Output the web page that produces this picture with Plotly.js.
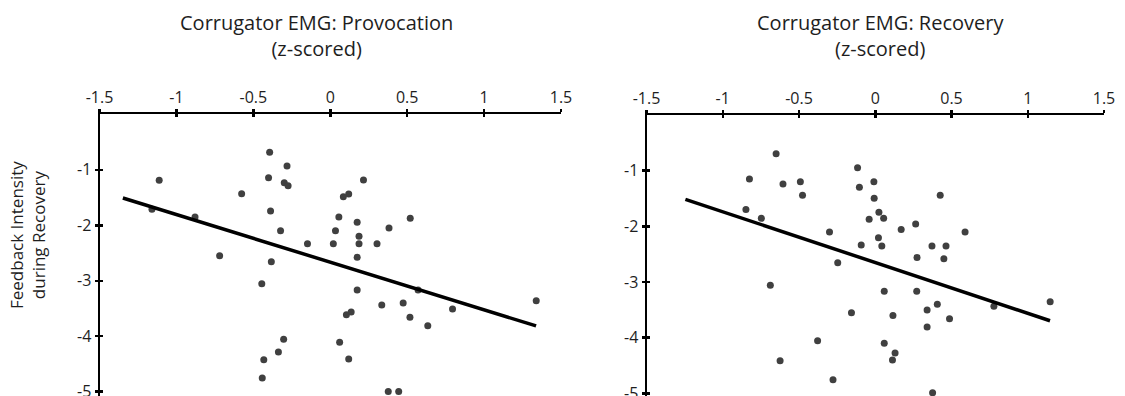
<!DOCTYPE html>
<html>
<head>
<meta charset="utf-8">
<script src="https://cdn.plot.ly/plotly-3.0.1.min.js"></script>
<style>html,body{margin:0;padding:0;background:#fff;overflow:hidden;}#chart{width:1125px;height:420px;}</style>
</head>
<body>
<div id="chart"></div>
<script>
// ---- data ----
const provX = [-1.112,-0.394,-0.281,-0.401,-0.299,-0.274,-0.576,0.216,0.085,0.120,-1.159,-0.879,-0.388,0.056,0.175,0.520,0.382,-0.323,0.034,0.187,-0.148,0.020,0.187,0.304,-0.719,0.175,-0.383,-0.445,0.175,0.335,0.474,0.571,0.795,1.339,0.518,0.634,0.105,0.136,-0.303,-0.337,-0.432,0.061,0.120,-0.442,0.377,0.445];
const provY = [-1.189,-0.685,-0.932,-1.142,-1.232,-1.286,-1.431,-1.184,-1.485,-1.436,-1.712,-1.850,-1.742,-1.850,-1.946,-1.874,-2.049,-2.097,-2.097,-2.198,-2.332,-2.332,-2.332,-2.332,-2.548,-2.577,-2.656,-3.052,-3.166,-3.436,-3.400,-3.166,-3.508,-3.359,-3.658,-3.809,-3.611,-3.562,-4.054,-4.283,-4.422,-4.108,-4.409,-4.751,-4.998,-4.998];
const provFitX = [-1.348, 1.338];
const provFitY = [-1.508, -3.814];

const recX = [-0.650,-0.825,-0.605,-0.491,-0.477,-0.116,-0.104,-0.009,-0.007,0.024,0.055,-0.040,0.426,-0.848,-0.747,-0.300,0.170,0.265,0.589,0.021,-0.092,0.043,0.372,0.464,0.274,0.450,-0.246,-0.688,0.059,0.272,0.407,0.340,0.778,1.147,-0.156,0.116,0.487,0.340,-0.378,0.059,0.130,0.113,-0.624,-0.277,0.376];
const recY = [-0.696,-1.150,-1.240,-1.198,-1.443,-0.947,-1.300,-1.198,-1.497,-1.749,-1.857,-1.875,-1.443,-1.700,-1.857,-2.102,-2.055,-1.959,-2.102,-2.204,-2.336,-2.354,-2.354,-2.354,-2.558,-2.582,-2.654,-3.060,-3.168,-3.168,-3.402,-3.504,-3.438,-3.355,-3.552,-3.600,-3.660,-3.810,-4.056,-4.103,-4.277,-4.403,-4.415,-4.756,-4.990];
const recFitX = [-1.245, 1.146];
const recFitY = [-1.515, -3.696];

const xTickVals = [-1.5,-1,-0.5,0,0.5,1,1.5];
const xTickText = ['-1.5','-1','-0.5','0','0.5','1','1.5'];
const yTickVals = [-1,-2,-3,-4,-5];
const yTickText = ['-1','-2','-3','-4','-5'];

const titleLeft = 'Corrugator EMG: Provocation<br>(z-scored)';
const titleRight = 'Corrugator EMG: Recovery<br>(z-scored)';
const yTitle = 'Feedback Intensity<br>during Recovery';

// ---- chart ----
const FONT = 'Open Sans, Noto Sans, sans-serif';
const TXT = '#1e1e1e';
const dotStyle = {color:'#404040', size:7};
const fitStyle = {color:'#000', width:3.5};

const traces = [
  {x:provX, y:provY, xaxis:'x', yaxis:'y', mode:'markers', type:'scatter', marker:dotStyle, hoverinfo:'skip'},
  {x:provFitX, y:provFitY, xaxis:'x', yaxis:'y', mode:'lines', type:'scatter', line:fitStyle, hoverinfo:'skip'},
  {x:recX, y:recY, xaxis:'x2', yaxis:'y2', mode:'markers', type:'scatter', marker:dotStyle, hoverinfo:'skip'},
  {x:recFitX, y:recFitY, xaxis:'x2', yaxis:'y2', mode:'lines', type:'scatter', line:fitStyle, hoverinfo:'skip'},
  {x:[null], y:[null], xaxis:'x3', yaxis:'y3', mode:'markers', type:'scatter', hoverinfo:'skip'},
  {x:[null], y:[null], xaxis:'x4', yaxis:'y4', mode:'markers', type:'scatter', hoverinfo:'skip'}
];

// drawing area is taller than the 396px window so the bottom is cropped like the reference
const W = 1125, H = 420;
const L = {x0:99.5, x1:561, top:114.3, pxPerUnit:55.5, yMinus5:391.7};
const R = {x0:646.5, x1:1104, top:115, pxPerUnit:55.66, yMinus5:393.3};
L.yb = -5 - (H - L.yMinus5)/L.pxPerUnit;
R.yb = -5 - (H - R.yMinus5)/R.pxPerUnit;

function xa(dom, anchor, overlay, inside){
  const a = {
    domain: dom, range:[-1.5,1.5], side:'top', anchor: anchor,
    showline: !inside, linecolor:'#000', linewidth:2,
    showgrid:false, zeroline:false,
    ticks: inside ? 'inside' : 'outside', ticklen:3, tickwidth:2.5, tickcolor:'#000',
    tickmode:'array', tickvals:xTickVals, ticktext:xTickText,
    showticklabels: !inside,
    tickfont:{family:FONT, size:16, color:TXT}
  };
  if (overlay) a.overlaying = overlay;
  return a;
}
function ya(dom, yb, anchor, overlay, inside){
  const a = {
    domain: dom, range:[yb,0], anchor: anchor,
    showline: !inside, linecolor:'#000', linewidth:2,
    showgrid:false, zeroline:false,
    ticks: inside ? 'inside' : 'outside', ticklen:3, tickwidth:2.5, tickcolor:'#000',
    tickmode:'array', tickvals:yTickVals, ticktext:yTickText,
    showticklabels: !inside,
    tickfont:{family:FONT, size:16, color:TXT}
  };
  if (overlay) a.overlaying = overlay;
  return a;
}

const dL = [L.x0/W, L.x1/W], dR = [R.x0/W, R.x1/W];
const yL = [0, 1 - L.top/H], yR = [0, 1 - R.top/H];

const layout = {
  width:W, height:H, margin:{l:0,r:0,t:0,b:0},
  paper_bgcolor:'#fff', plot_bgcolor:'rgba(0,0,0,0)',
  showlegend:false,
  font:{family:FONT, color:TXT},
  xaxis: xa(dL,'y'), yaxis: ya(yL, L.yb, 'x'),
  xaxis2: xa(dR,'y2'), yaxis2: ya(yR, R.yb, 'x2'),
  xaxis3: xa(dL,'y3','x',true), yaxis3: ya(yL, L.yb, 'x3','y',true),
  xaxis4: xa(dR,'y4','x2',true), yaxis4: ya(yR, R.yb, 'x4','y2',true),
  annotations:[
    {text:titleLeft, xref:'paper', yref:'paper', x:316/W, y:1-7/H, xanchor:'center', yanchor:'top', showarrow:false, font:{family:FONT, size:20, color:TXT}},
    {text:titleRight, xref:'paper', yref:'paper', x:880/W, y:1-7/H, xanchor:'center', yanchor:'top', showarrow:false, font:{family:FONT, size:20, color:TXT}},
    {text:yTitle, xref:'paper', yref:'paper', x:27/W, y:1-235/H, xanchor:'center', yanchor:'middle', textangle:-90, showarrow:false, font:{family:FONT, size:17, color:TXT}}
  ]
};

Plotly.newPlot('chart', traces, layout, {staticPlot:true, displayModeBar:false});
</script>
</body>
</html>
